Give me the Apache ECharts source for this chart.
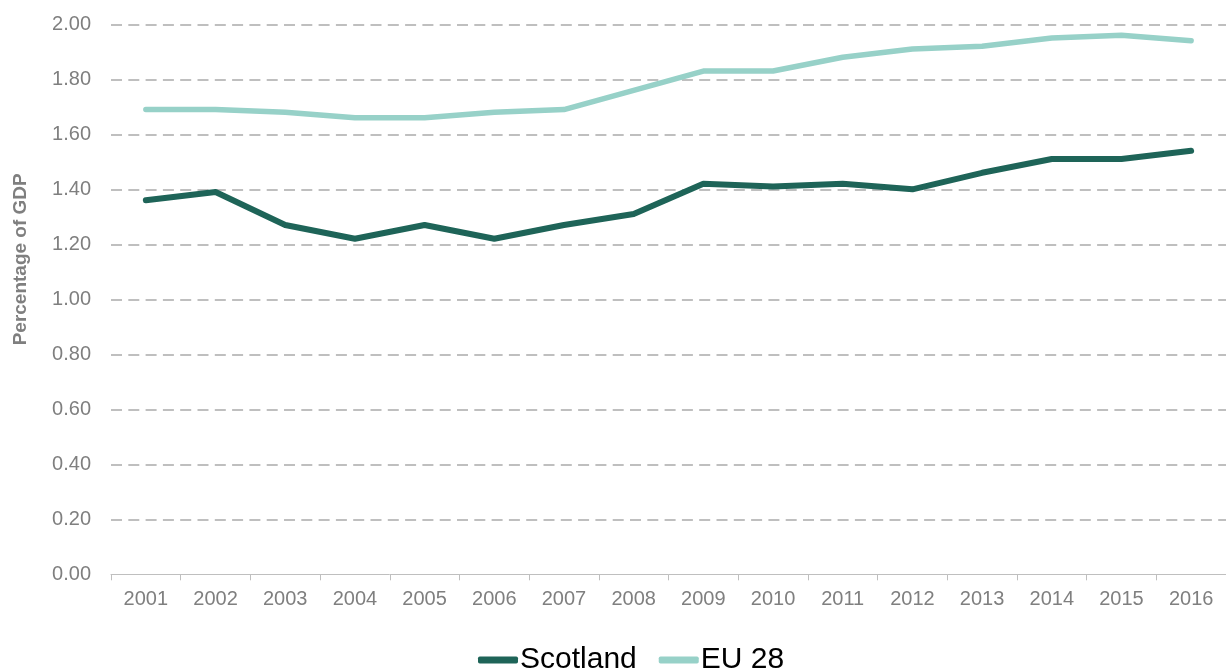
<!DOCTYPE html>
<html>
<head>
<meta charset="utf-8">
<title>R&amp;D expenditure as a percentage of GDP</title>
<script src="https://cdn.jsdelivr.net/npm/echarts@6/dist/echarts.min.js"></script>
<style>
  html, body { margin: 0; padding: 0; background: #ffffff; }
  #chart { width: 1226px; height: 668px; }
</style>
</head>
<body>
<div id="chart"></div>
<script>
// Years on the category axis
const years = ['2001','2002','2003','2004','2005','2006','2007','2008',
               '2009','2010','2011','2012','2013','2014','2015','2016'];

// Spend as a percentage of GDP
const scotland = [1.36, 1.39, 1.27, 1.22, 1.27, 1.22, 1.27, 1.31,
                  1.42, 1.41, 1.42, 1.40, 1.46, 1.51, 1.51, 1.54];
const eu28 = [1.69, 1.69, 1.68, 1.66, 1.66, 1.68, 1.69, 1.76,
              1.83, 1.83, 1.88, 1.91, 1.92, 1.95, 1.96, 1.94];

const seriesNames = ['Scotland', 'EU 28'];
const yAxisTitle = 'Percentage of GDP';

const FONT = '"Liberation Sans", Arial, sans-serif';
const GREY = '#7f7f7f';
const LINE_GREY = '#bfbfbf';

const chart = echarts.init(document.getElementById('chart'), null, { renderer: 'canvas' });

chart.setOption({
  animation: false,
  backgroundColor: '#ffffff',
  grid: { left: 111, right: -7, top: 24.3, bottom: 93.7, containLabel: false },
  legend: {
    left: 473,
    top: 640,
    itemWidth: 40,
    itemHeight: 7,
    itemGap: 22,
    icon: 'roundRect',
    textStyle: { fontFamily: FONT, fontSize: 30, color: '#000000', padding: [0, 0, 0, -3] },
    data: seriesNames
  },
  xAxis: {
    type: 'category',
    data: years,
    boundaryGap: true,
    axisLine: { show: true, lineStyle: { color: LINE_GREY, width: 1 } },
    axisTick: { show: true, length: 6, lineStyle: { color: LINE_GREY } },
    axisLabel: { fontFamily: FONT, fontSize: 20, color: GREY, margin: 15 },
    splitLine: { show: false }
  },
  yAxis: {
    type: 'value',
    min: 0,
    max: 2,
    interval: 0.2,
    name: yAxisTitle,
    nameLocation: 'middle',
    nameGap: 81,
    nameTextStyle: {
      fontFamily: FONT, fontSize: 19, fontWeight: 'bold', color: GREY,
      padding: [0, 0, 0, 80]
    },
    axisLine: { show: false },
    axisTick: { show: false },
    axisLabel: {
      fontFamily: FONT, fontSize: 20, color: GREY, margin: 20,
      formatter: v => v.toFixed(2)
    },
    splitLine: {
      show: true,
      showMinLine: false,
      lineStyle: { color: LINE_GREY, width: 2, type: [11, 6.3] }
    }
  },
  series: [
    {
      name: seriesNames[0],
      type: 'line',
      data: scotland,
      symbol: 'none',
      color: '#1e6458',
      lineStyle: { width: 6, color: '#1e6458', cap: 'round', join: 'round' },
      z: 3
    },
    {
      name: seriesNames[1],
      type: 'line',
      data: eu28,
      symbol: 'none',
      color: '#97d1c8',
      lineStyle: { width: 5.5, color: '#97d1c8', cap: 'round', join: 'round' },
      z: 2
    }
  ]
});
</script>
</body>
</html>
